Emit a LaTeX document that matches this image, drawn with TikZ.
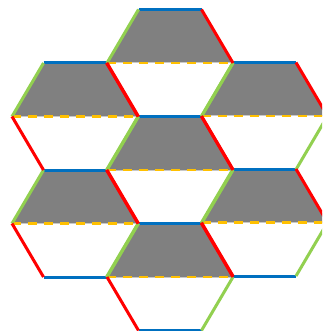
\documentclass[tikz,border=0pt]{standalone}
\definecolor{eblue}{RGB}{0,112,192}
\definecolor{egreen}{RGB}{146,208,80}
\definecolor{ered}{RGB}{255,0,0}
\definecolor{eorange}{RGB}{255,192,0}
\definecolor{hgray}{RGB}{128,128,128}
\definecolor{lgray}{RGB}{200,200,200}
\tikzset{
  topfill/.style={fill=hgray},
  midline/.style={draw=lgray, line width=1pt},
  middash/.style={draw=eorange, line width=2.4pt, dash pattern=on 9pt off 7pt},
  blueedge/.style={draw=eblue, line width=3pt},
  greenedge/.style={draw=egreen, line width=3pt},
  rededge/.style={draw=ered, line width=3pt}
}
\begin{document}
\begin{tikzpicture}[x=1pt,y=-1pt]
\useasboundingbox (0,0) rectangle (322,331);
\def\s{63}
\def\hs{31.5}
\def\hh{53.5}
\foreach \n/\cx/\cy in {1/170/63, 2/75/116.5, 3/264.5/116, 4/170/170, 5/75/223.5, 6/264.5/222.5, 7/170/277}{
  \coordinate (h\n-TL) at (\cx-\hs,\cy-\hh);
  \coordinate (h\n-TR) at (\cx+\hs,\cy-\hh);
  \coordinate (h\n-R)  at (\cx+\s,\cy);
  \coordinate (h\n-BR) at (\cx+\hs,\cy+\hh);
  \coordinate (h\n-BL) at (\cx-\hs,\cy+\hh);
  \coordinate (h\n-L)  at (\cx-\s,\cy);
}
\begin{scope}
\clip (0,0) rectangle (322,331);
\foreach \n in {1,...,7}{
  \path[topfill] (h\n-L) -- (h\n-TL) -- (h\n-TR) -- (h\n-R) -- cycle;
}
\foreach \n in {1,...,7}{
  \path[midline] (h\n-L) -- (h\n-R);
  \path[middash] (h\n-L) -- (h\n-R);
}
\foreach \n in {1,...,7}{
  \path[blueedge] (h\n-TL) -- (h\n-TR);
  \path[blueedge] (h\n-BL) -- (h\n-BR);
}
\foreach \n in {1,...,7}{
  \path[greenedge] (h\n-L) -- (h\n-TL);
  \path[greenedge] (h\n-BR) -- (h\n-R);
}
\foreach \n in {1,...,7}{
  \path[rededge] (h\n-TR) -- (h\n-R);
  \path[rededge] (h\n-L) -- (h\n-BL);
}
\end{scope}
\end{tikzpicture}
\end{document}
